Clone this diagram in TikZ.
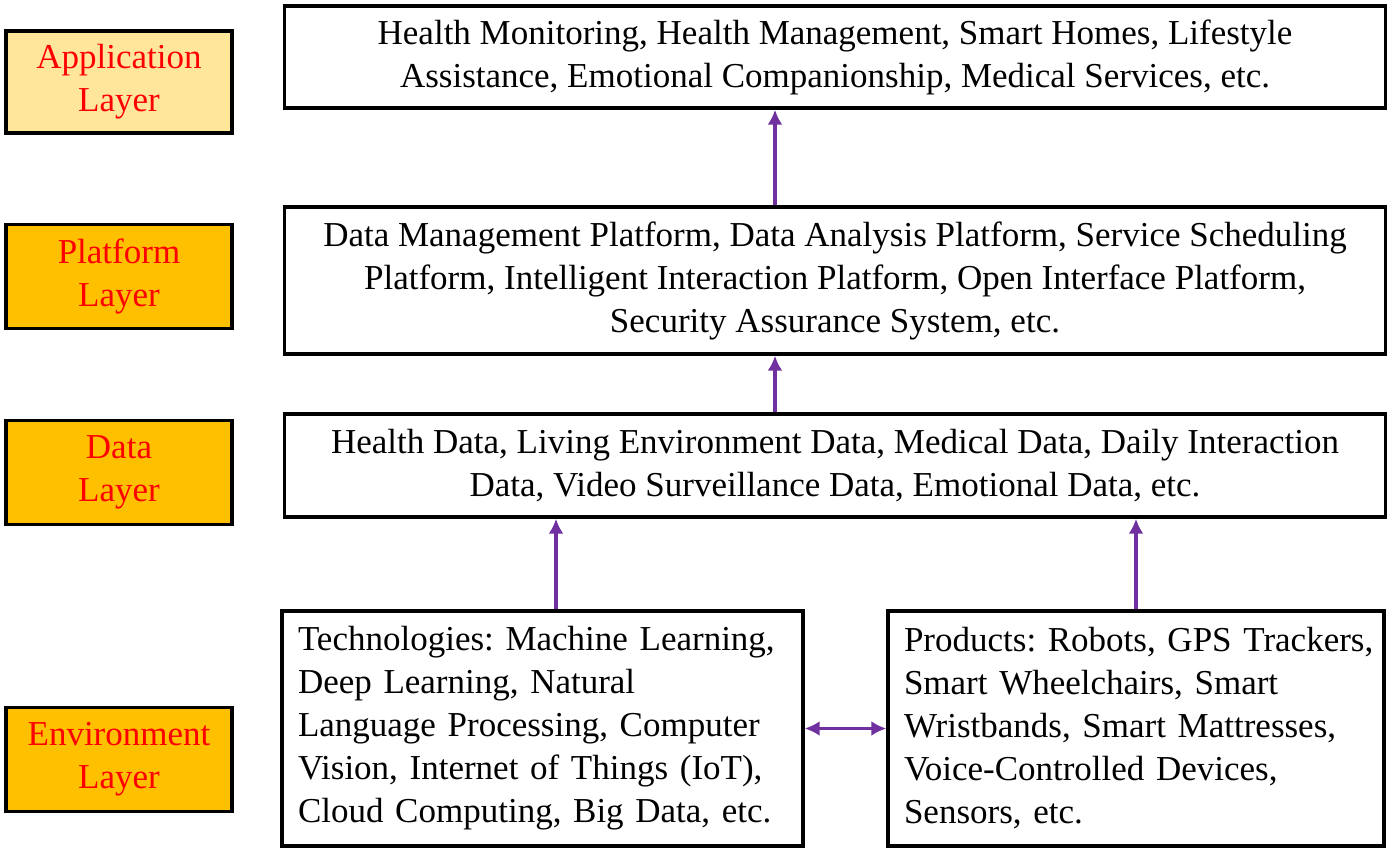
\documentclass[tikz,border=0pt]{standalone}
\usepackage{fontspec}
\setmainfont{Liberation Serif}
\usepackage{tikz}
\usetikzlibrary{positioning,arrows.meta}

\definecolor{layerOrange}{HTML}{FFC000}
\definecolor{layerPale}{HTML}{FFE699}
\definecolor{flowPurple}{HTML}{7030A0}

\frenchspacing

\begin{document}
\begin{tikzpicture}[
        x=1pt, y=-1pt,
        layer/.style={
            % The shape
            rectangle,
            minimum width = 226pt,
            minimum height = 104pt,
            % The border
            line width = 3.4pt,
            draw = black,
            % The fill
            fill = layerOrange,
            % The color
            text = red,
            % Font
            font = \fontsize{35}{43}\selectfont,
            align = center
        },
        content/.style={
            % The shape
            rectangle,
            inner sep = 0pt,
            % The border
            line width = 3.4pt,
            draw = black,
            % The color
            color = black,
            % Font
            font = \fontsize{35}{43}\selectfont,
            align = center
        },
        flow/.style={
            line width = 3.4pt,
            draw = flowPurple,
            -{Latex[length=15pt,width=15pt]}
        },
    ]
        \useasboundingbox (0,0) rectangle (1395,852);

        % the layer names on the left
        \node (appLayer) [layer,fill=layerPale,minimum height=102pt] at (119,82) {Application\\Layer};
        \node (platformLayer) [layer] at (119,276.5) {Platform\\Layer};
        \node (dataLayer) [layer] at (119,472.5) {Data\\Layer};
        \node (envLayer) [layer] at (119,759.5) {Environment\\Layer};

        % the contents of each layer
        \node (appBox) [content,minimum width=1101pt,minimum height=102pt] at (835,57) {Health Monitoring,\ Health Management,\ Smart Homes,\ Lifestyle\\
        Assistance,\ Emotional Companionship,\ Medical Services,\ etc.};

        \node (platformBox) [content,minimum width=1101pt,minimum height=147pt] at (835,280.5) {Data Management Platform,\ Data Analysis Platform,\ Service Scheduling\\
        Platform,\ Intelligent Interaction Platform,\ Open Interface Platform,\\
        Security Assurance System,\ etc.};

        \node (dataBox) [content,minimum width=1101pt,minimum height=103pt] at (835,465.5) {Health Data,\ Living Environment Data,\ Medical Data,\ Daily Interaction\\
        Data,\ Video Surveillance Data,\ Emotional Data,\ etc.};

        \node (techBox) [content,align=left,text width=489pt,inner xsep=16pt,minimum height=235pt] at (542.5,728.5) {Technologies: Machine Learning,\\
        Deep Learning,\ Natural\\
        Language Processing,\ Computer\\
        Vision,\ Internet of Things (IoT),\\
        Cloud Computing,\ Big Data,\ etc.};

        \node (productBox) [content,align=left,text width=464pt,inner xsep=16pt,minimum height=235pt] at (1136,728.5) {\makebox[464pt][l]{Products: Robots,\ GPS Trackers,}\\
        Smart Wheelchairs,\ Smart\\
        Wristbands,\ Smart Mattresses,\\
        Voice-Controlled Devices,\\
        Sensors,\ etc.};

        % the arrows between the boxes
        \coordinate (upperLine) at (775,0);
        \coordinate (techLine) at (556,0);
        \draw[flow] (upperLine |- platformBox.north) -- (upperLine |- appBox.south);
        \draw[flow] (upperLine |- dataBox.north) -- (upperLine |- platformBox.south);
        \draw[flow] (techLine |- techBox.north) -- (techLine |- dataBox.south);
        \draw[flow] (productBox.north) -- (productBox.north |- dataBox.south);
        \draw[flow,{Latex[length=15pt,width=15pt]}-{Latex[length=15pt,width=15pt]}] (techBox.east) -- (productBox.west);

    \end{tikzpicture}
\end{document}
